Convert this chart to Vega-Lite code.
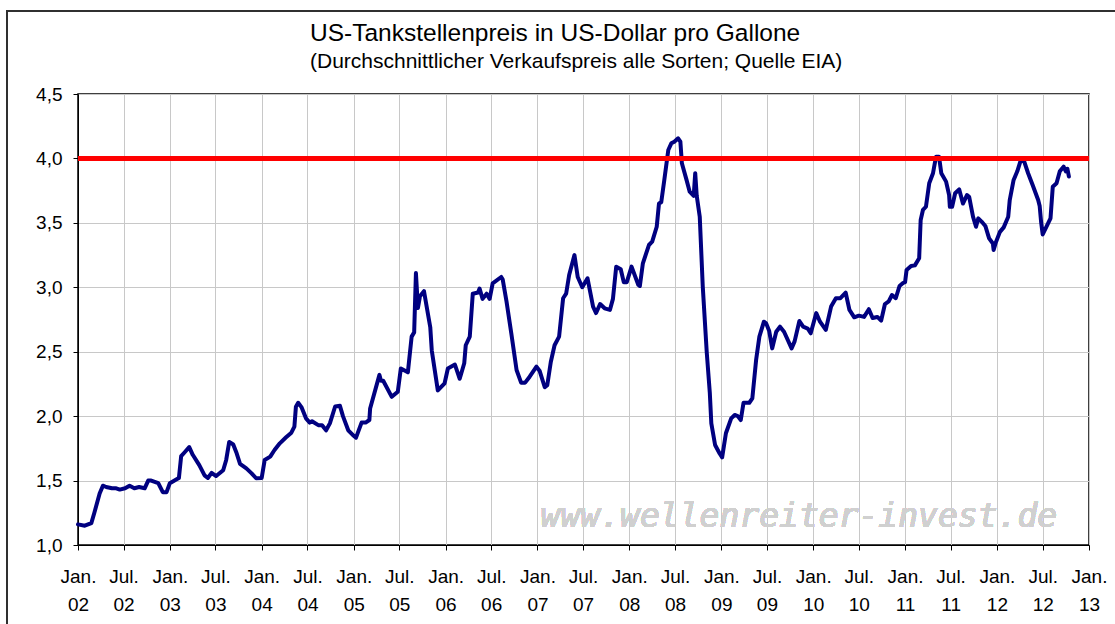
{
  "$schema": "https://vega.github.io/schema/vega-lite/v6.json",
  "width": 1011,
  "height": 451,
  "autosize": {"type": "none"},
  "padding": {"left": 78, "top": 94, "right": 26, "bottom": 79},
  "background": "white",
  "title": {
    "text": "US-Tankstellenpreis in US-Dollar pro Gallone",
    "subtitle": "(Durchschnittlicher Verkaufspreis alle Sorten; Quelle EIA)",
    "anchor": "start",
    "frame": "group",
    "dx": 232,
    "offset": -63,
    "font": "Liberation Sans",
    "fontSize": 24.5,
    "fontWeight": "normal",
    "color": "black",
    "subtitleFont": "Liberation Sans",
    "subtitleFontSize": 21,
    "subtitleColor": "black",
    "subtitlePadding": 5
  },
  "config": {
    "view": {"stroke": "black", "strokeWidth": 1.5},
    "axis": {
      "labelFont": "Liberation Sans",
      "labelFontSize": 19,
      "labelColor": "black",
      "domainColor": "black",
      "domainWidth": 1,
      "tickColor": "black",
      "tickWidth": 1,
      "tickSize": 5,
      "gridColor": "#C8C8C8",
      "gridWidth": 1,
      "title": null
    }
  },
  "data": {
    "values": [
      {"date": "2002-01-01", "price": 1.16},
      {"date": "2002-01-28", "price": 1.15},
      {"date": "2002-02-23", "price": 1.17},
      {"date": "2002-03-07", "price": 1.25},
      {"date": "2002-03-28", "price": 1.40},
      {"date": "2002-04-10", "price": 1.46},
      {"date": "2002-04-23", "price": 1.45},
      {"date": "2002-05-16", "price": 1.44},
      {"date": "2002-06-02", "price": 1.44},
      {"date": "2002-06-16", "price": 1.43},
      {"date": "2002-07-07", "price": 1.44},
      {"date": "2002-07-25", "price": 1.46},
      {"date": "2002-08-13", "price": 1.44},
      {"date": "2002-09-01", "price": 1.45},
      {"date": "2002-09-23", "price": 1.44},
      {"date": "2002-10-07", "price": 1.50},
      {"date": "2002-10-19", "price": 1.50},
      {"date": "2002-11-16", "price": 1.48},
      {"date": "2002-12-04", "price": 1.41},
      {"date": "2002-12-19", "price": 1.41},
      {"date": "2003-01-01", "price": 1.48},
      {"date": "2003-01-28", "price": 1.51},
      {"date": "2003-02-06", "price": 1.52},
      {"date": "2003-02-15", "price": 1.69},
      {"date": "2003-03-01", "price": 1.72},
      {"date": "2003-03-19", "price": 1.76},
      {"date": "2003-04-02", "price": 1.70},
      {"date": "2003-04-28", "price": 1.62},
      {"date": "2003-05-19", "price": 1.54},
      {"date": "2003-06-01", "price": 1.52},
      {"date": "2003-06-16", "price": 1.56},
      {"date": "2003-07-04", "price": 1.535},
      {"date": "2003-08-01", "price": 1.58},
      {"date": "2003-08-13", "price": 1.66},
      {"date": "2003-08-25", "price": 1.80},
      {"date": "2003-09-10", "price": 1.78},
      {"date": "2003-09-22", "price": 1.72},
      {"date": "2003-10-07", "price": 1.63},
      {"date": "2003-11-01", "price": 1.595},
      {"date": "2003-11-22", "price": 1.556},
      {"date": "2003-12-10", "price": 1.518},
      {"date": "2004-01-01", "price": 1.52},
      {"date": "2004-01-13", "price": 1.66},
      {"date": "2004-02-04", "price": 1.686},
      {"date": "2004-02-21", "price": 1.737},
      {"date": "2004-03-13", "price": 1.789},
      {"date": "2004-04-07", "price": 1.836},
      {"date": "2004-04-28", "price": 1.872},
      {"date": "2004-05-10", "price": 1.918},
      {"date": "2004-05-16", "price": 2.073},
      {"date": "2004-05-25", "price": 2.104},
      {"date": "2004-06-07", "price": 2.07},
      {"date": "2004-06-25", "price": 1.983},
      {"date": "2004-07-10", "price": 1.95},
      {"date": "2004-07-19", "price": 1.96},
      {"date": "2004-08-13", "price": 1.93},
      {"date": "2004-08-28", "price": 1.93},
      {"date": "2004-09-13", "price": 1.89},
      {"date": "2004-09-28", "price": 1.944},
      {"date": "2004-10-19", "price": 2.075},
      {"date": "2004-11-07", "price": 2.08},
      {"date": "2004-11-19", "price": 2.00},
      {"date": "2004-12-10", "price": 1.89},
      {"date": "2004-12-28", "price": 1.854},
      {"date": "2005-01-10", "price": 1.833},
      {"date": "2005-02-01", "price": 1.95},
      {"date": "2005-02-17", "price": 1.95},
      {"date": "2005-03-04", "price": 1.97},
      {"date": "2005-03-07", "price": 2.06},
      {"date": "2005-04-13", "price": 2.32},
      {"date": "2005-04-19", "price": 2.275},
      {"date": "2005-04-28", "price": 2.275},
      {"date": "2005-06-01", "price": 2.15},
      {"date": "2005-06-25", "price": 2.19},
      {"date": "2005-07-07", "price": 2.37},
      {"date": "2005-08-04", "price": 2.34},
      {"date": "2005-08-19", "price": 2.617},
      {"date": "2005-08-29", "price": 2.65},
      {"date": "2005-09-05", "price": 3.11},
      {"date": "2005-09-13", "price": 2.84},
      {"date": "2005-09-21", "price": 2.93},
      {"date": "2005-10-07", "price": 2.97},
      {"date": "2005-11-01", "price": 2.69},
      {"date": "2005-11-07", "price": 2.51},
      {"date": "2005-12-01", "price": 2.20},
      {"date": "2005-12-28", "price": 2.255},
      {"date": "2006-01-10", "price": 2.37},
      {"date": "2006-02-07", "price": 2.40},
      {"date": "2006-02-26", "price": 2.29},
      {"date": "2006-03-16", "price": 2.41},
      {"date": "2006-03-22", "price": 2.55},
      {"date": "2006-04-07", "price": 2.617},
      {"date": "2006-04-19", "price": 2.95},
      {"date": "2006-05-10", "price": 2.96},
      {"date": "2006-05-16", "price": 2.99},
      {"date": "2006-05-28", "price": 2.91},
      {"date": "2006-06-13", "price": 2.95},
      {"date": "2006-06-25", "price": 2.91},
      {"date": "2006-07-07", "price": 3.03},
      {"date": "2006-08-10", "price": 3.08},
      {"date": "2006-08-16", "price": 3.06},
      {"date": "2006-08-31", "price": 2.89},
      {"date": "2006-09-19", "price": 2.643},
      {"date": "2006-10-10", "price": 2.358},
      {"date": "2006-10-28", "price": 2.26},
      {"date": "2006-11-13", "price": 2.26},
      {"date": "2006-12-01", "price": 2.306},
      {"date": "2006-12-28", "price": 2.384},
      {"date": "2007-01-10", "price": 2.35},
      {"date": "2007-01-30", "price": 2.224},
      {"date": "2007-02-09", "price": 2.24},
      {"date": "2007-02-23", "price": 2.42},
      {"date": "2007-03-10", "price": 2.55},
      {"date": "2007-03-28", "price": 2.617},
      {"date": "2007-04-13", "price": 2.915},
      {"date": "2007-04-25", "price": 2.95},
      {"date": "2007-05-07", "price": 3.095},
      {"date": "2007-05-28", "price": 3.25},
      {"date": "2007-06-10", "price": 3.08},
      {"date": "2007-06-28", "price": 3.00},
      {"date": "2007-07-19", "price": 3.07},
      {"date": "2007-08-10", "price": 2.85},
      {"date": "2007-08-22", "price": 2.80},
      {"date": "2007-09-07", "price": 2.87},
      {"date": "2007-09-25", "price": 2.837},
      {"date": "2007-10-16", "price": 2.824},
      {"date": "2007-10-28", "price": 2.91},
      {"date": "2007-11-10", "price": 3.16},
      {"date": "2007-11-28", "price": 3.14},
      {"date": "2007-12-10", "price": 3.04},
      {"date": "2007-12-22", "price": 3.04},
      {"date": "2008-01-10", "price": 3.16},
      {"date": "2008-02-06", "price": 3.018},
      {"date": "2008-02-12", "price": 3.01},
      {"date": "2008-02-24", "price": 3.186},
      {"date": "2008-03-19", "price": 3.328},
      {"date": "2008-04-01", "price": 3.354},
      {"date": "2008-04-19", "price": 3.47},
      {"date": "2008-04-28", "price": 3.65},
      {"date": "2008-05-07", "price": 3.66},
      {"date": "2008-05-19", "price": 3.83},
      {"date": "2008-06-04", "price": 4.065},
      {"date": "2008-06-16", "price": 4.117},
      {"date": "2008-06-28", "price": 4.13},
      {"date": "2008-07-13", "price": 4.156},
      {"date": "2008-07-22", "price": 4.13},
      {"date": "2008-07-28", "price": 3.962},
      {"date": "2008-08-16", "price": 3.83},
      {"date": "2008-08-28", "price": 3.742},
      {"date": "2008-09-13", "price": 3.71},
      {"date": "2008-09-19", "price": 3.885},
      {"date": "2008-09-25", "price": 3.71},
      {"date": "2008-10-07", "price": 3.548},
      {"date": "2008-10-19", "price": 3.005},
      {"date": "2008-11-04", "price": 2.49},
      {"date": "2008-11-16", "price": 2.18},
      {"date": "2008-11-22", "price": 1.944},
      {"date": "2008-12-07", "price": 1.776},
      {"date": "2008-12-25", "price": 1.71},
      {"date": "2009-01-04", "price": 1.68},
      {"date": "2009-01-19", "price": 1.867},
      {"date": "2009-02-09", "price": 1.983},
      {"date": "2009-02-23", "price": 2.009},
      {"date": "2009-03-07", "price": 2.0},
      {"date": "2009-03-19", "price": 1.97},
      {"date": "2009-03-30", "price": 2.104},
      {"date": "2009-04-22", "price": 2.104},
      {"date": "2009-05-04", "price": 2.138},
      {"date": "2009-05-19", "price": 2.436},
      {"date": "2009-06-01", "price": 2.617},
      {"date": "2009-06-19", "price": 2.733},
      {"date": "2009-06-28", "price": 2.72},
      {"date": "2009-07-10", "price": 2.66},
      {"date": "2009-07-22", "price": 2.526},
      {"date": "2009-08-07", "price": 2.655},
      {"date": "2009-08-22", "price": 2.694},
      {"date": "2009-09-07", "price": 2.655},
      {"date": "2009-10-07", "price": 2.526},
      {"date": "2009-10-19", "price": 2.58},
      {"date": "2009-11-07", "price": 2.738},
      {"date": "2009-11-22", "price": 2.694},
      {"date": "2009-12-10", "price": 2.68},
      {"date": "2009-12-22", "price": 2.643},
      {"date": "2010-01-13", "price": 2.80},
      {"date": "2010-01-28", "price": 2.733},
      {"date": "2010-02-20", "price": 2.67},
      {"date": "2010-03-13", "price": 2.85},
      {"date": "2010-04-01", "price": 2.915},
      {"date": "2010-04-19", "price": 2.915},
      {"date": "2010-05-10", "price": 2.958},
      {"date": "2010-05-25", "price": 2.824},
      {"date": "2010-06-13", "price": 2.767},
      {"date": "2010-07-01", "price": 2.78},
      {"date": "2010-07-22", "price": 2.77},
      {"date": "2010-08-10", "price": 2.83},
      {"date": "2010-08-25", "price": 2.762},
      {"date": "2010-09-13", "price": 2.77},
      {"date": "2010-09-28", "price": 2.741},
      {"date": "2010-10-13", "price": 2.87},
      {"date": "2010-10-28", "price": 2.89},
      {"date": "2010-11-10", "price": 2.94},
      {"date": "2010-11-25", "price": 2.915},
      {"date": "2010-12-10", "price": 3.01},
      {"date": "2010-12-25", "price": 3.035},
      {"date": "2011-01-01", "price": 3.04},
      {"date": "2011-01-07", "price": 3.134},
      {"date": "2011-01-25", "price": 3.165},
      {"date": "2011-02-09", "price": 3.17},
      {"date": "2011-02-26", "price": 3.225},
      {"date": "2011-03-04", "price": 3.522},
      {"date": "2011-03-13", "price": 3.60},
      {"date": "2011-03-25", "price": 3.625},
      {"date": "2011-04-07", "price": 3.807},
      {"date": "2011-04-22", "price": 3.885},
      {"date": "2011-04-28", "price": 3.95},
      {"date": "2011-05-04", "price": 4.013},
      {"date": "2011-05-16", "price": 4.013},
      {"date": "2011-05-25", "price": 3.885},
      {"date": "2011-06-13", "price": 3.82},
      {"date": "2011-06-25", "price": 3.716},
      {"date": "2011-06-28", "price": 3.625},
      {"date": "2011-07-07", "price": 3.625},
      {"date": "2011-07-19", "price": 3.73},
      {"date": "2011-08-04", "price": 3.76},
      {"date": "2011-08-19", "price": 3.65},
      {"date": "2011-09-04", "price": 3.716},
      {"date": "2011-09-13", "price": 3.70},
      {"date": "2011-09-28", "price": 3.548},
      {"date": "2011-10-10", "price": 3.47},
      {"date": "2011-10-19", "price": 3.535},
      {"date": "2011-11-01", "price": 3.51},
      {"date": "2011-11-16", "price": 3.476},
      {"date": "2011-12-01", "price": 3.38},
      {"date": "2011-12-16", "price": 3.34},
      {"date": "2011-12-19", "price": 3.29},
      {"date": "2011-12-28", "price": 3.35},
      {"date": "2012-01-13", "price": 3.43},
      {"date": "2012-01-28", "price": 3.465},
      {"date": "2012-02-15", "price": 3.548},
      {"date": "2012-02-21", "price": 3.677},
      {"date": "2012-03-07", "price": 3.83},
      {"date": "2012-03-22", "price": 3.90},
      {"date": "2012-04-07", "price": 4.0},
      {"date": "2012-04-16", "price": 3.99},
      {"date": "2012-05-04", "price": 3.885},
      {"date": "2012-05-22", "price": 3.794},
      {"date": "2012-06-13", "price": 3.677},
      {"date": "2012-06-19", "price": 3.63},
      {"date": "2012-06-25", "price": 3.50},
      {"date": "2012-07-01", "price": 3.41},
      {"date": "2012-07-16", "price": 3.47},
      {"date": "2012-08-01", "price": 3.535},
      {"date": "2012-08-10", "price": 3.78},
      {"date": "2012-08-25", "price": 3.807},
      {"date": "2012-09-07", "price": 3.90},
      {"date": "2012-09-22", "price": 3.936},
      {"date": "2012-10-01", "price": 3.90},
      {"date": "2012-10-07", "price": 3.92},
      {"date": "2012-10-13", "price": 3.86}
    ]
  },
  "layer": [
    {
      "mark": {"type": "text", "font": "DejaVu Sans Mono", "fontStyle": "italic", "fontSize": 33, "align": "center", "baseline": "alphabetic", "color": "#D0D0D0"},
      "encoding": {
        "x": {"datum": {"year": 2009, "month": 11, "date": 5, "utc": true}, "type": "temporal"},
        "y": {"datum": 1.14, "type": "quantitative"},
        "text": {"value": "www.wellenreiter-invest.de"}
      }
    },
    {
      "mark": {"type": "line", "color": "#000080", "strokeWidth": 4, "strokeJoin": "round", "strokeCap": "round"},
      "encoding": {
        "x": {
          "field": "date",
          "type": "temporal",
          "scale": {"type": "utc", "domain": [{"year": 2002, "month": 1, "date": 1, "utc": true}, {"year": 2013, "month": 1, "date": 1, "utc": true}], "nice": false},
          "axis": {
            "tickCount": {"interval": "month", "step": 6},
            "labelExpr": "[utcFormat(datum.value, '%b') + '.', utcFormat(datum.value, '%y')]",
            "labelLineHeight": 28,
            "labelPadding": 17,
            "labelOverlap": false,
            "labelBound": false,
            "labelFlush": false,
            "grid": true
          }
        },
        "y": {
          "field": "price",
          "type": "quantitative",
          "scale": {"domain": [1, 4.5], "nice": false, "zero": false},
          "axis": {
            "values": [1, 1.5, 2, 2.5, 3, 3.5, 4, 4.5],
            "labelExpr": "replace(format(datum.value, '.1f'), '.', ',')",
            "labelPadding": 11,
            "grid": true
          }
        }
      }
    },
    {
      "mark": {"type": "rule", "color": "#FF0000", "strokeWidth": 4},
      "encoding": {"y": {"datum": 4, "type": "quantitative"}}
    },
    {
      "mark": {"type": "rect", "filled": false, "stroke": "#303030", "strokeWidth": 1.5},
      "encoding": {
        "x": {"datum": {"year": 2001, "month": 3, "date": 24, "utc": true}, "type": "temporal"},
        "x2": {"datum": {"year": 2013, "month": 4, "date": 20, "utc": true}},
        "y": {"datum": 5.144, "type": "quantitative"},
        "y2": {"datum": 0.34}
      }
    }
  ]
}
